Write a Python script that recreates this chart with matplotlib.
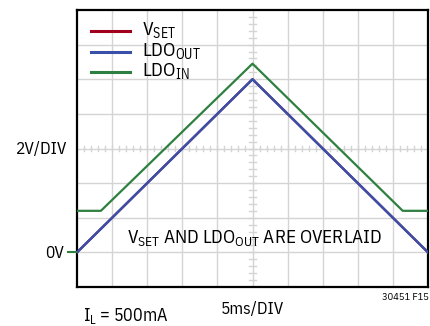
import numpy as np
import matplotlib
matplotlib.use("Agg")
import matplotlib.pyplot as plt

FONT = 'IBM Plex Sans Condensed'
plt.rcParams['font.family'] = [FONT, 'DejaVu Sans']
plt.rcParams['mathtext.fontset'] = 'custom'
plt.rcParams['mathtext.rm'] = FONT
plt.rcParams['mathtext.it'] = FONT

# time in ms (5ms/DIV), voltage in V (2V/DIV)
t_set = [0, 25, 50]
v_set = [0, 10, 0]
t_out = [0, 25, 50]
v_out = [0, 10, 0]
t_in = [0, 3.4, 25, 46.4, 50]
v_in = [2.4, 2.4, 10.9, 2.4, 2.4]

names = [r'V$_{\rm SET}$', r'LDO$_{\rm OUT}$', r'LDO$_{\rm IN}$']
colors = ['#a0001e', '#3a4fa8', '#2e8040']

fig = plt.figure(figsize=(4.30, 3.26), dpi=100)
ax = fig.add_axes([77 / 430, 1 - 287 / 326, 351 / 430, 277 / 326])
ax.set_xlim(0, 50)
ax.set_ylim(-2, 14)

grid_c = '#d4d4d4'
for x in np.arange(5, 50, 5):
    ax.axvline(x, color=grid_c, lw=1.0, zorder=1)
for y in np.arange(0, 14, 2):
    ax.axhline(y, color=grid_c, lw=1.0, zorder=1)
# minor ticks on the centre lines
for x in np.arange(1, 50, 1):
    ax.plot([x, x], [6 - 0.17, 6 + 0.17], color=grid_c, lw=1.0, zorder=1)
for y in np.arange(-1.6, 14, 0.4):
    ax.plot([25 - 0.43, 25 + 0.43], [y, y], color=grid_c, lw=1.0, zorder=1)

ax.plot(t_in, v_in, color=colors[2], lw=1.6, zorder=3, label=names[2])
ax.plot(t_set, v_set, color=colors[0], lw=1.6, zorder=3, label=names[0])
ax.plot(t_out, v_out, color=colors[1], lw=1.8, zorder=4, label=names[1])

ax.set_xticks([])
ax.set_yticks([])
for s in ax.spines.values():
    s.set_linewidth(1.6)
    s.set_color('black')

# legend
leg_y = [12.8, 11.6, 10.4]
for i, (nm, c) in enumerate(zip(names, colors)):
    ax.plot([2, 7.5], [leg_y[i], leg_y[i]], color=c, lw=2.2, zorder=5)
    ax.text(9.2, leg_y[i] + 0.05, nm, fontsize=14, va='center', ha='left', zorder=5)

ax.text(25.3, 0.85, r'V$_{\rm SET}$ AND LDO$_{\rm OUT}$ ARE OVERLAID',
        fontsize=13.8, va='center', ha='center')

fig.text(67 / 430, 1 - 149 / 326, '2V/DIV', fontsize=12.5, ha='right', va='center')
fig.text(64 / 430, 1 - 253 / 326, '0V', fontsize=12.5, ha='right', va='center')
fig.add_artist(plt.Line2D([68 / 430, 76 / 430], [1 - 252 / 326, 1 - 252 / 326],
                          color=colors[2], lw=1.5))
fig.text(252 / 430, 1 - 309 / 326, '5ms/DIV', fontsize=12.5, ha='center', va='center')
fig.text(83 / 430, 1 - 316 / 326, r'I$_{\rm L}$ = 500mA', fontsize=13, ha='left', va='center')
fig.text(429 / 430, 1 - 297 / 326, '30451 F15', fontsize=7.5, ha='right', va='center')

fig.savefig('out.png', dpi=100)
